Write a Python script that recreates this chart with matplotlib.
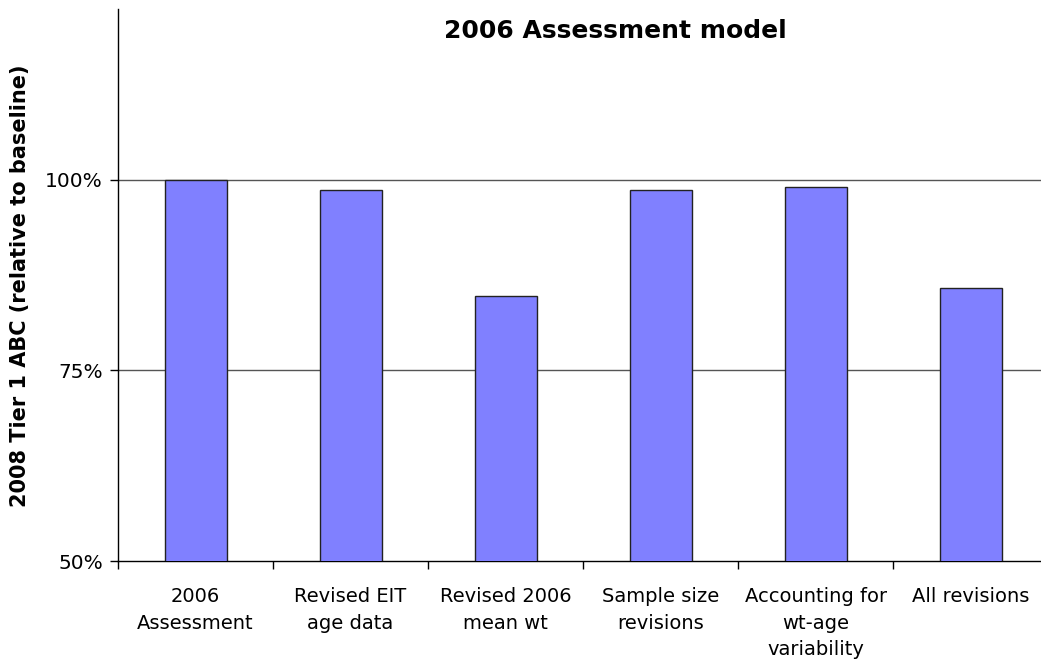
import numpy as np
import matplotlib
matplotlib.use("Agg")
import matplotlib.pyplot as plt
from matplotlib.ticker import FixedLocator, PercentFormatter

categories = ["2006\nAssessment", "Revised EIT\nage data", "Revised 2006\nmean wt",
              "Sample size\nrevisions", "Accounting for\nwt-age\nvariability", "All revisions"]
abc_pct = [100.0, 98.6, 84.8, 98.7, 99.0, 85.8]

fig = plt.figure(figsize=(10.41, 6.67), dpi=100)
ax = fig.add_axes([0.1134, 0.1589, 0.8934, 0.8276])

x = np.arange(len(categories))
ax.bar(x, abc_pct, width=0.4, color="#8080FF", edgecolor="#222222", linewidth=1.0, zorder=3)

ax.set_xlim(-0.5, len(categories) - 0.5)
ax.set_ylim(50, 122.4)
ax.set_yticks([50, 75, 100])
ax.yaxis.set_major_formatter(PercentFormatter(decimals=0))
for y in [75, 100]:
    ax.axhline(y, color="#555555", linewidth=1.0, zorder=1)

ax.xaxis.set_major_locator(FixedLocator(np.arange(len(categories) + 1) - 0.5))
ax.xaxis.set_minor_locator(FixedLocator(x))
ax.set_xticklabels([], minor=False)
ax.set_xticklabels(categories, minor=True, linespacing=1.5)
ax.tick_params(axis="x", which="major", direction="out", length=6, width=1)
ax.tick_params(axis="x", which="minor", length=0, pad=19, labelsize=14)
ax.tick_params(axis="y", direction="out", length=6, width=1, labelsize=14.5, pad=5)

for s in ["top", "right"]:
    ax.spines[s].set_visible(False)
for s in ["left", "bottom"]:
    ax.spines[s].set_color("black")
    ax.spines[s].set_linewidth(1.0)

fig.text(20 / 1041, 1 - 286 / 667, "2008 Tier 1 ABC (relative to baseline)", rotation=90,
         fontsize=15, fontweight="bold", ha="center", va="center")
fig.text(615 / 1041, 1 - 31 / 667, "2006 Assessment model", fontsize=18,
         fontweight="bold", ha="center", va="center")

fig.savefig("out.png", dpi=100)
